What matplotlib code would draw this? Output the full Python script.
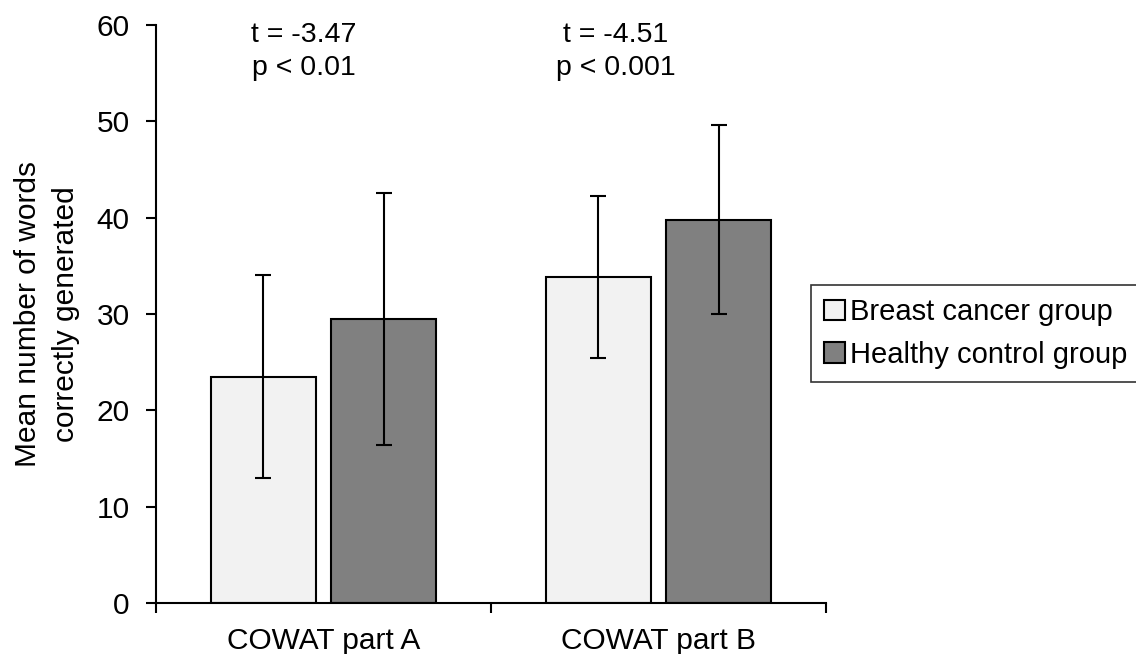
import numpy as np
import matplotlib.pyplot as plt

plt.rcParams['font.family'] = ['Liberation Sans', 'DejaVu Sans']

categories = ['COWAT part A', 'COWAT part B']
groups = ['Breast cancer group', 'Healthy control group']
breast_mean = [23.5, 33.8]
breast_sd = [10.5, 8.4]
healthy_mean = [29.5, 39.8]
healthy_sd = [13.1, 9.85]
stats_text = ['t = -3.47\np < 0.01', 't = -4.51\np < 0.001']
stats_x = [-0.058, 0.873]

fig = plt.figure(figsize=(11.36, 6.54), dpi=100)
ax = fig.add_axes([156 / 1136, 1 - 603 / 654, 670 / 1136, 578 / 654])

x = np.arange(len(categories))
width = 0.313
offset = 0.18
err_kw = dict(ecolor='black', elinewidth=1.5, capsize=6, capthick=1.5)

ax.bar(x - offset, breast_mean, width, yerr=breast_sd, color='#f2f2f2',
       edgecolor='black', linewidth=1.5, label=groups[0], error_kw=err_kw)
ax.bar(x + offset, healthy_mean, width, yerr=healthy_sd, color='#808080',
       edgecolor='black', linewidth=1.5, label=groups[1], error_kw=err_kw)

ax.set_xlim(-0.5, 1.5)
ax.set_ylim(0, 60)
ax.set_yticks(np.arange(0, 61, 10))
ax.set_xticks(x)
ax.set_xticklabels(categories)
ax.set_xticks([-0.5, 0.5, 1.5], minor=True)

ax.spines['top'].set_visible(False)
ax.spines['right'].set_visible(False)
for s in ['left', 'bottom']:
    ax.spines[s].set_linewidth(1.5)

ax.tick_params(axis='y', direction='out', length=7, width=1.5, pad=12, labelsize=21.5)
ax.tick_params(axis='x', which='major', length=0, pad=17, labelsize=21.5)
ax.tick_params(axis='x', which='minor', direction='out', length=7, width=1.5)

ax.set_ylabel('Mean number of words\ncorrectly generated', fontsize=21.5, labelpad=12,
              linespacing=1.45)

for xs, txt in zip(stats_x, stats_text):
    ax.text(xs, 57.3, txt, ha='center', va='center', fontsize=20.5, linespacing=1.35)

leg = fig.legend(loc='center left', bbox_to_anchor=(811 / 1136, 1 - 333.5 / 654),
                 fontsize=21, frameon=True, fancybox=False, edgecolor='black',
                 handlelength=0.7, handleheight=0.7, handletextpad=0.2,
                 borderaxespad=0, borderpad=0.45, labelspacing=0.5)
leg.get_frame().set_linewidth(1.2)

fig.savefig('out.png', dpi=100)
